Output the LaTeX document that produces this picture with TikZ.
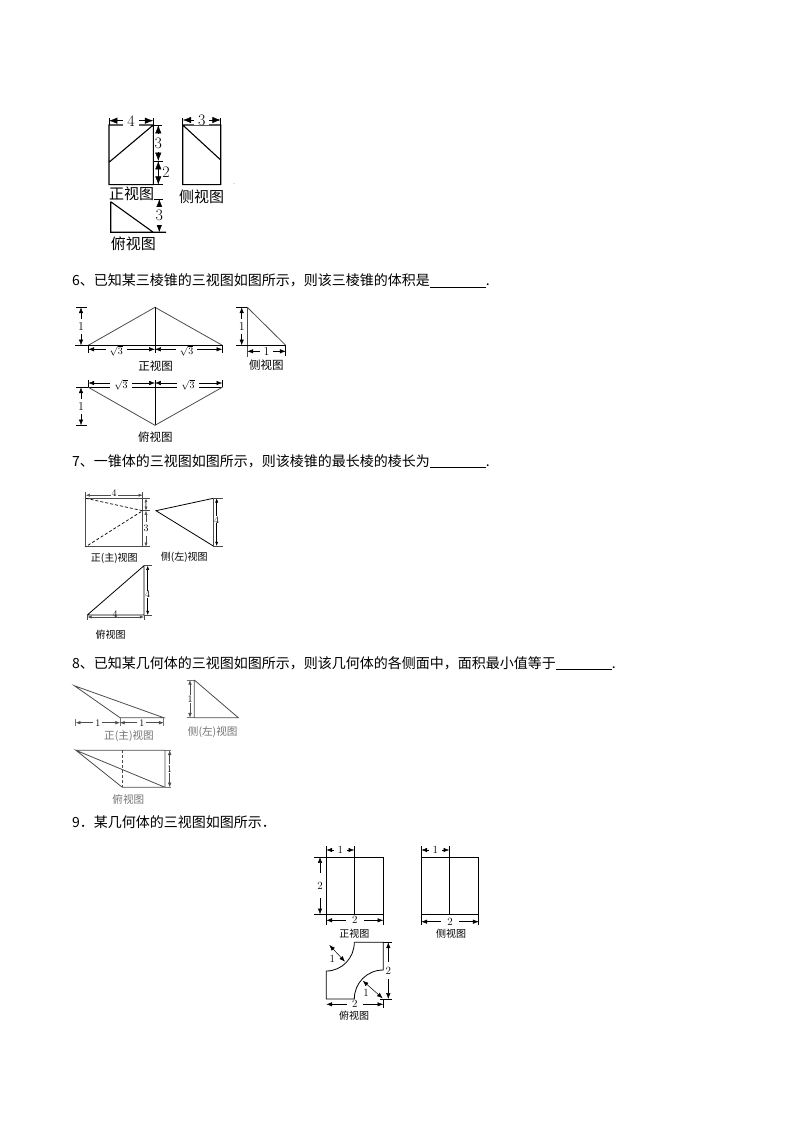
\documentclass[tikz,border=0pt]{standalone}
\usepackage{fontspec}
\usepackage{xcolor}
\usetikzlibrary{arrows.meta}
\newfontfamily\cjk{Noto Sans CJK SC}
\colorlet{softcol}{black!70}
\colorlet{palecol}{black!55}
\tikzset{
	viewlabel/.style={font=\cjk\fontsize{#1}{#1}\selectfont, inner sep=0pt},
	questline/.style={font=\cjk\fontsize{14}{14}\selectfont, inner sep=0pt, anchor=west},
	dimline/.style={{Latex[scale=#1]}-{Latex[scale=#1]}, line width=.5pt},
	dimline/.default=1.1,
	dimnum/.style={font=\fontsize{#1}{#1}\selectfont, inner xsep=4pt, inner ysep=0pt, fill=white, text=black},
	vdimnum/.style={font=\fontsize{#1}{#1}\selectfont, inner xsep=0pt, inner ysep=3.5pt, fill=white, text=black},
	edgeline/.style={line width=.8pt},
	tickline/.style={line width=.5pt}
}
\newcommand{\blank}{\rule[-1.5pt]{56pt}{.5pt}.}
\newcommand{\fullcomma}{\symbol{"FF0C}}
\newcommand{\fulldot}{\symbol{"FF0E}}

\begin{document}
\begin{tikzpicture}[x=1pt, y=-1pt]
		\useasboundingbox (0, 0) rectangle (794, 1123);
		% first views
		\coordinate (fa) at (109, 125);
		\coordinate (fb) at (153.3, 125);
		\coordinate (fc) at (153.3, 184.7);
		\coordinate (fe) at (109, 162.3);
		\coordinate (ft) at (162, 125);
		\coordinate (fm) at (158.3, 161);
		\coordinate (fr) at (162.7, 184.7);
		\coordinate (sa) at (182.7, 125);
		\coordinate (sb) at (220.7, 125);
		\coordinate (sc) at (220.7, 184.7);
		\coordinate (se) at (220.7, 160);
		\coordinate (ta) at (110.7, 201.7);
		\coordinate (tb) at (110.7, 232.3);
		\coordinate (tc) at (153.3, 232.3);
		\coordinate (te) at (166, 232.3);
		\draw[line width=1.1pt] (fa) rectangle (fc) (fe) -- (fb) (sa) rectangle (sc) (sa) -- (se) (ta) -- (tb) -- (te) (ta) -- (tc);
		\draw[tickline] (fb) -- (ft) (fc) -- (fr) (154, 161) -- (163, 161) (154, 199) -- (163, 199);
		\draw[tickline] (fa) -- +(0, -7) (fb) -- +(0, -7) (sa) -- +(0, -7) (sb) -- +(0, -7);
		\draw[dimline=1.6] (109, 120.7) -- node[dimnum=16] (fw) {4} (153.3, 120.7);
		\draw[dimline=1.6] (158.3, 125) -- node[vdimnum=16] (fh) {3} (fm);
		\draw[dimline=1.6] (fm) -- (158.3, 184.7);
		\node[font=\fontsize{16}{16}\selectfont, inner sep=0pt] (fk) at (166, 172) {2};
		\draw[dimline=1.6] (182.7, 120) -- node[dimnum=16] (sw) {3} (220.7, 120);
		\draw[dimline=1.6] (159.3, 199) -- node[vdimnum=16] (th) {3} (159.3, 232.3);
		\node[viewlabel=15] (fname) at (131.7, 194) {正视图};
		\node[viewlabel=15] (sname) at (201.7, 196.7) {侧视图};
		\node[viewlabel=15] (tname) at (133.3, 244) {俯视图};
		\node[font=\fontsize{6}{6}\selectfont, inner sep=0pt] (dot) at (234.3, 184) {.};

		% question 6
		\node[questline] (q6) at (72, 280.5) {6、已知某三棱锥的三视图如图所示\fullcomma 则该三棱锥的体积是\blank};
		\coordinate (gtop) at (155, 307.3);
		\coordinate (gl) at (88.3, 345.3);
		\coordinate (gr) at (222.3, 345.3);
		\coordinate (gx) at (75, 345.3);
		\draw[softcol, edgeline] (gl) -- (gtop) -- (gr);
		\draw[tickline] (gx) -- (gr) (gtop) -- (155, 353.3) (gl) -- +(0, 8) (gr) -- +(0, 8) (76, 307.3) -- (87.3, 307.3);
		\draw[dimline] (81, 307.3) -- node[vdimnum=12] (gh) {1} (81, 345.3);
		\draw[dimline] (88.3, 349.3) -- node[dimnum=10, pos=.42, yshift=-1.5pt] (gw) {$\sqrt{3}$} (155, 349.3);
		\draw[dimline] (155, 349.3) -- node[dimnum=10, pos=.47, yshift=-1.5pt] (gv) {$\sqrt{3}$} (222.3, 349.3);
		\node[viewlabel=11.5] (gname) at (155.7, 366) {正视图};
		\coordinate (ha) at (247.3, 307.3);
		\coordinate (hc) at (285.7, 345.3);
		\draw[softcol, line width=1.1pt] (ha) -- (247.3, 356.7);
		\draw[softcol, edgeline] (ha) -- (hc);
		\draw[tickline] (236, 307.3) -- (ha) (236, 345.3) -- (hc) -- (285.7, 356.3);
		\draw[dimline] (241.7, 307.3) -- node[vdimnum=12] (hh) {1} (241.7, 345.3);
		\draw[dimline] (247.3, 351.3) -- node[dimnum=12] (hw) {1} (285.7, 351.3);
		\node[viewlabel=11.5] (hname) at (266.3, 365) {侧视图};
		\coordinate (il) at (88.3, 387.3);
		\coordinate (im) at (155, 387.3);
		\coordinate (ir) at (222.3, 387.3);
		\coordinate (ib) at (155, 425.3);
		\draw[edgeline] (76, 387.3) -- (ir) (im) -- (ib);
		\draw[softcol, edgeline] (il) -- (ib) -- (ir);
		\draw[tickline] (il) -- +(0, -7.5) (ir) -- +(0, -7.5) (im) -- +(0, -7.5) (76, 425.3) -- (87, 425.3);
		\draw[dimline] (88.3, 383) -- node[dimnum=10, pos=.49, yshift=-2pt] (iw) {$\sqrt{3}$} (155, 383);
		\draw[dimline] (155, 383) -- node[dimnum=10, pos=.49, yshift=-2pt] (iv) {$\sqrt{3}$} (222.3, 383);
		\draw[dimline] (81, 387.3) -- node[vdimnum=12] (ih) {1} (81, 425.3);
		\node[viewlabel=11.5] (iname) at (155.3, 436.7) {俯视图};

		% question 7
		\node[questline] (q7) at (72, 461) {7、一锥体的三视图如图所示\fullcomma 则该棱锥的最长棱的棱长为\blank};
		\coordinate (ja) at (85.7, 498.3);
		\coordinate (jb) at (142.7, 498.3);
		\coordinate (jc) at (142.7, 546.7);
		\coordinate (jd) at (85.7, 546.7);
		\coordinate (je) at (142.7, 510.7);
		\draw[softcol, line width=1pt] (ja) rectangle (jc);
		\draw[densely dashed, line width=.7pt] (ja) -- (je) -- (jd);
		\draw[softcol, tickline] (jb) -- (150, 498.3) (je) -- (150, 510.7) (jc) -- (150, 546.7) (ja) -- (85.7, 491.7) (jb) -- (142.7, 491.7);
		\draw[softcol, dimline=.8] (85.7, 495.2) -- node[dimnum=10, inner xsep=1pt, yshift=2pt] (jw) {4} (142.7, 495.2);
		\draw[softcol, dimline=.8] (146, 498.3) -- node[vdimnum=8, inner ysep=0pt] (jh) {1} (146, 510.7);
		\draw[softcol, dimline=.8] (146, 510.7) -- node[vdimnum=10] (jk) {3} (146, 546.7);
		\node[viewlabel=10] (jname) at (114.3, 558) {正(主)视图};
		\coordinate (ka) at (156, 510.7);
		\coordinate (kb) at (213.3, 498.3);
		\coordinate (kc) at (213.3, 546);
		\draw[line width=.8pt] (kb) -- (ka) -- (kc);
		\draw[softcol, line width=1pt] (kb) -- (kc);
		\draw[softcol, tickline] (kb) -- (222.7, 498.3) (kc) -- (222.7, 546);
		\draw[dimline=.8] (216.7, 498.3) -- node[vdimnum=10, pos=.45, inner ysep=0pt] (kh) {4} (216.7, 546);
		\node[viewlabel=10] (kname) at (184.3, 557.7) {侧(左)视图};
		\coordinate (la) at (87.3, 615);
		\coordinate (lb) at (144, 565.7);
		\coordinate (lc) at (144, 615);
		\draw[line width=.8pt] (la) -- (lb) -- (lc) -- (la);
		\draw[softcol, tickline] (lb) -- (152, 565.7) (lc) -- (152, 615) (la) -- (87.3, 620) (lc) -- (144, 620);
		\draw[dimline=.8] (147.7, 565.7) -- node[vdimnum=10, pos=.58, inner ysep=0pt] (lh) {4} (147.7, 615);
		\draw[softcol, dimline=.8] (87.3, 617) -- node[dimnum=10, pos=.49, yshift=2.5pt, inner xsep=1pt, fill=none] (lw) {4} (144, 617);
		\node[viewlabel=10] (lname) at (110.7, 635) {俯视图};

		% question 8
		\node[questline] (q8) at (72, 663) {8、已知某几何体的三视图如图所示\fullcomma 则该几何体的各侧面中\fullcomma 面积最小值等于\blank};
		\coordinate (ma) at (74.3, 685.7);
		\coordinate (mb) at (120, 717.7);
		\coordinate (mc) at (163.7, 717.7);
		\draw[softcol, edgeline] (mb) -- (ma) -- (mc) -- (mb);
		\draw[palecol, tickline] (75.7, 719) -- (75.7, 726) (mb) -- (120, 726) (mc) -- (163.7, 726);
		\draw[softcol, dimline=.9] (75.7, 722.7) -- node[dimnum=10, inner xsep=2pt] (mw) {1} (120, 722.7);
		\draw[softcol, dimline=.9] (120, 722.7) -- node[dimnum=10, inner xsep=2pt] (mv) {1} (163.7, 722.7);
		\node[viewlabel=10.6, palecol] (mname) at (129, 736) {正(主)视图};
		\coordinate (na) at (194.3, 680);
		\coordinate (nb) at (194.3, 717.7);
		\coordinate (nc) at (238.3, 717.7);
		\draw[softcol, edgeline] (na) -- (nb) -- (nc) -- (na);
		\draw[palecol, tickline] (186.7, 680) -- (na) (186.7, 717.7) -- (nb);
		\draw[softcol, dimline=.9] (190, 680) -- node[vdimnum=10, inner ysep=1pt] (nh) {1} (190, 717.7);
		\node[viewlabel=10.6, palecol] (nname) at (212.7, 731.7) {侧(左)视图};
		\coordinate (oa) at (76, 750.3);
		\coordinate (ob) at (165, 750.3);
		\coordinate (oc) at (165, 787.3);
		\coordinate (od) at (122.3, 787.3);
		\draw[softcol, edgeline] (oa) -- (ob) -- (oc) -- (od) -- (oa) -- (oc);
		\draw[softcol, densely dashed, line width=.7pt] (122.3, 750.3) -- (od);
		\draw[palecol, tickline] (ob) -- (170.7, 750.3) (oc) -- (170.7, 787.3);
		\draw[softcol, dimline=.9] (169.7, 750.3) -- node[vdimnum=10, inner ysep=1pt] (oh) {1} (169.7, 787.3);
		\node[viewlabel=10.6, palecol] (oname) at (128.3, 799.3) {俯视图};

		% question 9
		\node[questline] (q9) at (72, 822) {9\fulldot 某几何体的三视图如图所示\fulldot};
		\coordinate (pa) at (326.3, 857);
		\coordinate (pb) at (383.3, 914.3);
		\coordinate (pm) at (354.3, 857);
		\coordinate (pn) at (354.3, 914.3);
		\draw[edgeline] (pa) rectangle (pb) (pm) -- (pn);
		\draw[tickline] (pa) -- (326.3, 846) (pm) -- (354.3, 846) (pa) -- (314, 857) (326.3, 914.3) -- (314, 914.3) (326.3, 914.3) -- (326.3, 925) (pb) -- (383.3, 925);
		\draw[dimline] (326.3, 850) -- node[dimnum=11] (pt) {1} (354.3, 850);
		\draw[dimline] (320, 857) -- node[vdimnum=11, inner ysep=9pt] (ph) {2} (320, 914.3);
		\draw[dimline] (326.3, 920.3) -- node[dimnum=11, inner xsep=6pt] (pw) {2} (383.3, 920.3);
		\node[viewlabel=10] (pname) at (354.3, 933.3) {正视图};
		\coordinate (qa) at (421.3, 857);
		\coordinate (qb) at (478.7, 914.3);
		\coordinate (qm) at (449.3, 857);
		\coordinate (qn) at (449.3, 914.3);
		\draw[edgeline] (qa) rectangle (qb) (qm) -- (qn);
		\draw[tickline] (qa) -- (421.3, 846) (qm) -- (449.3, 846) (421.3, 914.3) -- (421.3, 925) (qb) -- (478.7, 925);
		\draw[dimline] (421.3, 850) -- node[dimnum=11] (qt) {1} (449.3, 850);
		\draw[dimline] (421.3, 921.7) -- node[dimnum=11, inner xsep=6pt] (qw) {2} (478.7, 921.7);
		\node[viewlabel=10] (qname) at (451, 933.3) {侧视图};
		\coordinate (ra) at (354.3, 942.3);
		\coordinate (rb) at (383.3, 942.3);
		\coordinate (rc) at (383.3, 970);
		\coordinate (rd) at (354.3, 999);
		\coordinate (re) at (326.3, 999);
		\coordinate (rf) at (326.3, 971);
		\draw[edgeline] (ra) -- (rb) -- (rc) .. controls (367, 970) and (354.3, 983) .. (rd) -- (re) -- (rf) .. controls (342, 971) and (354.3, 958) .. (ra);
		\draw[tickline] (rb) -- (392, 942.3) (392, 999) -- (380, 999) (383.3, 999) -- (383.3, 1008);
		\draw[dimline] (388.3, 942.3) -- node[vdimnum=11, inner ysep=5pt] (rh) {2} (388.3, 999);
		\draw[dimline] (326.3, 1004.3) -- node[dimnum=11, inner xsep=5pt] (rw) {2} (383.3, 1004.3);
		\coordinate (rg) at (329.3, 945);
		\coordinate (ri) at (345, 961.7);
		\coordinate (rj) at (362.7, 980.7);
		\coordinate (rk) at (382.7, 998.3);
		\draw[dimline] (rg) -- (ri);
		\draw[dimline] (rj) -- (rk);
		\node[font=\fontsize{11}{11}\selectfont, inner sep=0pt] (ru) at (332.3, 959.3) {1};
		\node[font=\fontsize{11}{11}\selectfont, inner sep=0pt] (rv) at (366, 993.3) {1};
		\node[viewlabel=10] (rname) at (354, 1016) {俯视图};
	\end{tikzpicture}
\end{document}
